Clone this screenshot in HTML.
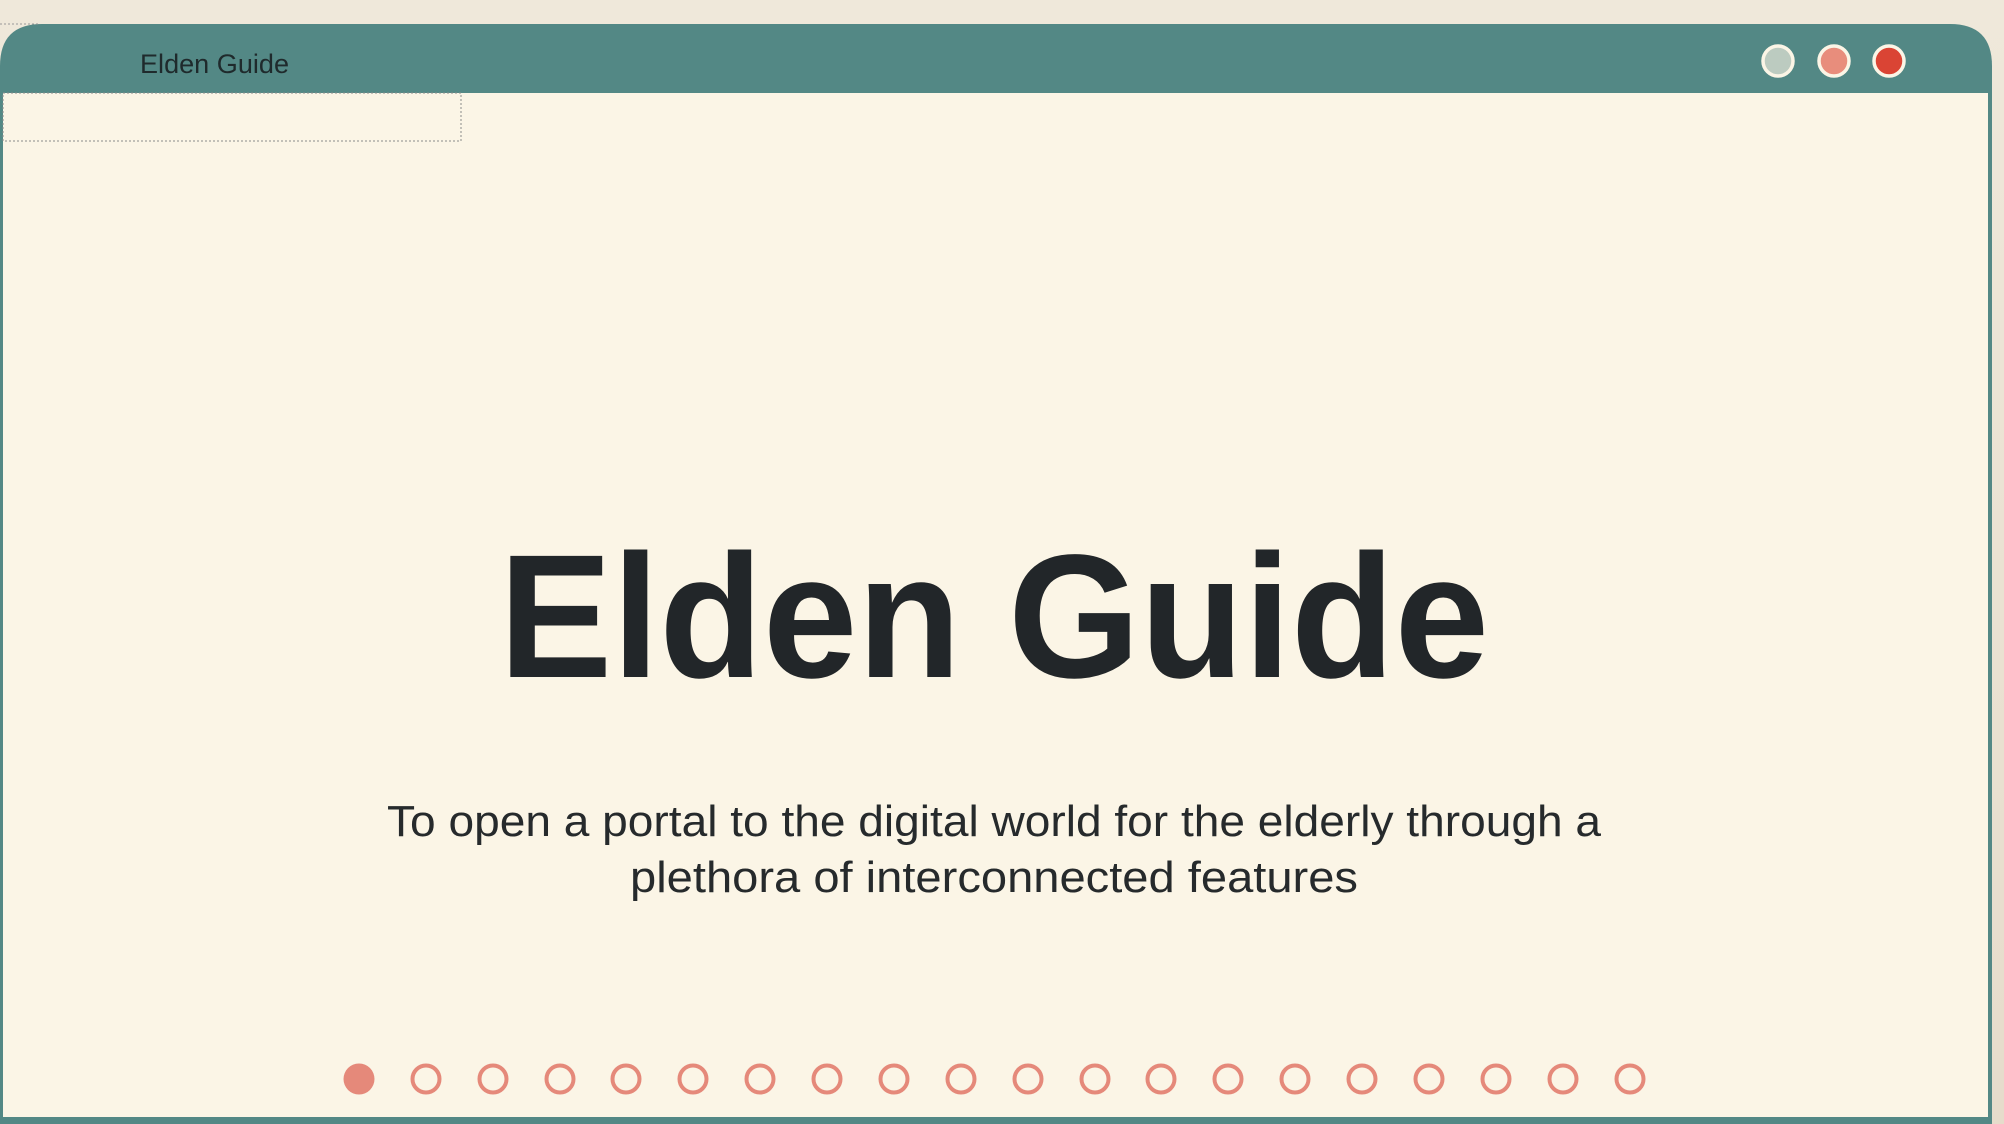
<!DOCTYPE html>
<html><head><meta charset="utf-8"><style>
html,body{margin:0;padding:0;width:2004px;height:1124px;overflow:hidden;background:#ebe3d3;font-family:"Liberation Sans",sans-serif}
</style></head><body>
<svg width="2004" height="1124" viewBox="0 0 2004 1124" xmlns="http://www.w3.org/2000/svg" style="position:absolute;left:0;top:0">
<defs><linearGradient id="bg" x1="0" y1="0" x2="0" y2="1"><stop offset="0" stop-color="#efe8da"/><stop offset="1" stop-color="#e6dccb"/></linearGradient></defs>
<rect width="2004" height="1124" fill="url(#bg)"/>
<!-- window -->
<path d="M0 66 Q0 24 42 24 L1950 24 Q1992 24 1992 66 L1992 1124 L0 1124 Z" fill="#538885"/>
<rect x="3" y="93" width="1985" height="1024" rx="0" fill="#fbf5e6"/>
<path d="M3 1090 L3 1090" stroke="none"/>
<line x1="0" y1="24" x2="40" y2="24" stroke="#999" stroke-dasharray="2,2" stroke-width="1"/>
<rect x="3" y="93" width="458" height="48" fill="none" stroke="#8a8a8a" stroke-dasharray="2,2" stroke-width="1"/>
<text x="140" y="73" font-family="Liberation Sans, sans-serif" font-size="27" fill="#1f2a2c" textLength="149" lengthAdjust="spacingAndGlyphs">Elden Guide</text>
<circle cx="1778" cy="61" r="15" fill="#bccbc0" stroke="#fbf5e6" stroke-width="3.5"/>
<circle cx="1834" cy="61" r="15" fill="#e88d7c" stroke="#fbf5e6" stroke-width="3.5"/>
<circle cx="1889" cy="61" r="15" fill="#da4434" stroke="#fbf5e6" stroke-width="3.5"/>
<text x="994" y="677" text-anchor="middle" font-family="Liberation Sans, sans-serif" font-weight="bold" font-size="176" fill="#222629" textLength="990" lengthAdjust="spacingAndGlyphs">Elden Guide</text>
<text x="994" y="836" text-anchor="middle" font-family="Liberation Sans, sans-serif" font-size="44" fill="#262a2c" textLength="1214" lengthAdjust="spacingAndGlyphs">To open a portal to the digital world for the elderly through a</text>
<text x="994" y="892" text-anchor="middle" font-family="Liberation Sans, sans-serif" font-size="44" fill="#262a2c" textLength="728" lengthAdjust="spacingAndGlyphs">plethora of interconnected features</text>
<g id="dots">
<circle cx="359" cy="1079" r="15.5" fill="#e5897a"/>
</g>
<g fill="none" stroke="#e5897a" stroke-width="4">
<circle cx="426" cy="1079" r="13.5"/><circle cx="493" cy="1079" r="13.5"/><circle cx="560" cy="1079" r="13.5"/><circle cx="626" cy="1079" r="13.5"/><circle cx="693" cy="1079" r="13.5"/><circle cx="760" cy="1079" r="13.5"/><circle cx="827" cy="1079" r="13.5"/><circle cx="894" cy="1079" r="13.5"/><circle cx="961" cy="1079" r="13.5"/><circle cx="1028" cy="1079" r="13.5"/><circle cx="1095" cy="1079" r="13.5"/><circle cx="1161" cy="1079" r="13.5"/><circle cx="1228" cy="1079" r="13.5"/><circle cx="1295" cy="1079" r="13.5"/><circle cx="1362" cy="1079" r="13.5"/><circle cx="1429" cy="1079" r="13.5"/><circle cx="1496" cy="1079" r="13.5"/><circle cx="1563" cy="1079" r="13.5"/><circle cx="1630" cy="1079" r="13.5"/>
</g>
</svg>
</body></html>
